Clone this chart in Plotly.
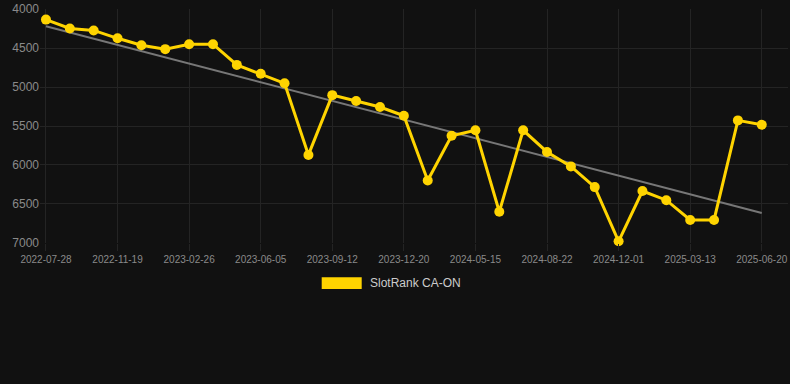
import numpy as np
import plotly.graph_objects as go

dates = [
    "2022-07-28", "2022-09-04", "2022-10-12", "2022-11-19", "2022-12-22", "2023-01-24",
    "2023-02-26", "2023-03-31", "2023-05-03", "2023-06-05", "2023-07-08", "2023-08-10",
    "2023-09-12", "2023-10-15", "2023-11-17", "2023-12-20", "2024-02-07", "2024-03-27",
    "2024-05-15", "2024-06-17", "2024-07-20", "2024-08-22", "2024-09-24", "2024-10-28",
    "2024-12-01", "2025-01-04", "2025-02-07", "2025-03-13", "2025-04-18", "2025-05-19",
    "2025-06-20",
]
ranks = [
    4135, 4249, 4274, 4375, 4463, 4514, 4451, 4451, 4716, 4830,
    4952, 5871, 5104, 5180, 5256, 5369, 6199, 5626, 5555, 6600,
    5555, 5833, 6018, 6284, 6979, 6334, 6452, 6705, 6705, 5428,
    5483,
]
tick_labels = dates[::3]
y_ticks = [4000, 4500, 5000, 5500, 6000, 6500, 7000]
series_name = "SlotRank CA-ON"

YELLOW = "#FFD400"
BG = "#111111"
GRID = "#242424"

idx = np.arange(len(ranks))
slope, intercept = np.polyfit(idx, ranks, 1)
trend = slope * idx + intercept

fig = go.Figure()
fig.add_trace(go.Scatter(
    x=[dates[0], dates[-1]], y=[trend[0], trend[-1]], mode="lines",
    line=dict(color="#777777", width=2), showlegend=False, hoverinfo="skip",
))
fig.add_trace(go.Scatter(
    x=dates, y=ranks, mode="lines+markers", name=series_name,
    line=dict(color=YELLOW, width=3),
    marker=dict(color=YELLOW, size=10),
    showlegend=False, cliponaxis=False,
))

fig.update_layout(
    width=790, height=384,
    paper_bgcolor=BG, plot_bgcolor=BG,
    margin=dict(l=40, r=2, t=6, b=141),
    font=dict(family="Liberation Sans, Arial, sans-serif", color="#8a8a8a"),
    xaxis=dict(
        type="category", categoryorder="array", categoryarray=dates,
        range=[-0.25, len(dates) - 1 + 1.1],
        tickvals=tick_labels, ticktext=tick_labels,
        tickfont=dict(size=10, color="#8a8a8a"),
        showgrid=True, gridcolor=GRID, gridwidth=1,
        ticks="outside", ticklen=7, tickcolor=GRID,
        zeroline=False, showline=False, tickangle=0,
        ticklabeloverflow="allow",
    ),
    yaxis=dict(
        range=[7001, 3999], tickvals=y_ticks,
        tickfont=dict(size=12, color="#8a8a8a"),
        showgrid=True, gridcolor=GRID, gridwidth=1,
        zeroline=False, showline=False,
        ticklabeloverflow="allow",
    ),
    shapes=[dict(
        type="rect", xref="paper", yref="paper",
        x0=(321.7 - 40) / 748, x1=(361.7 - 40) / 748,
        y0=(243 - 289.7) / 237, y1=(243 - 277.7) / 237,
        fillcolor=YELLOW, line=dict(width=0),
    )],
    annotations=[dict(
        text=series_name, xref="paper", yref="paper",
        x=(367.5 - 40) / 748, y=(243 - 284) / 237,
        xanchor="left", yanchor="middle", showarrow=False,
        font=dict(size=12, color="#cccccc"),
    )],
)

fig.write_html(
    "out.html",
    config={"displayModeBar": False},
    post_script="document.body.style.margin='0';document.body.style.background='#111111';",
)
